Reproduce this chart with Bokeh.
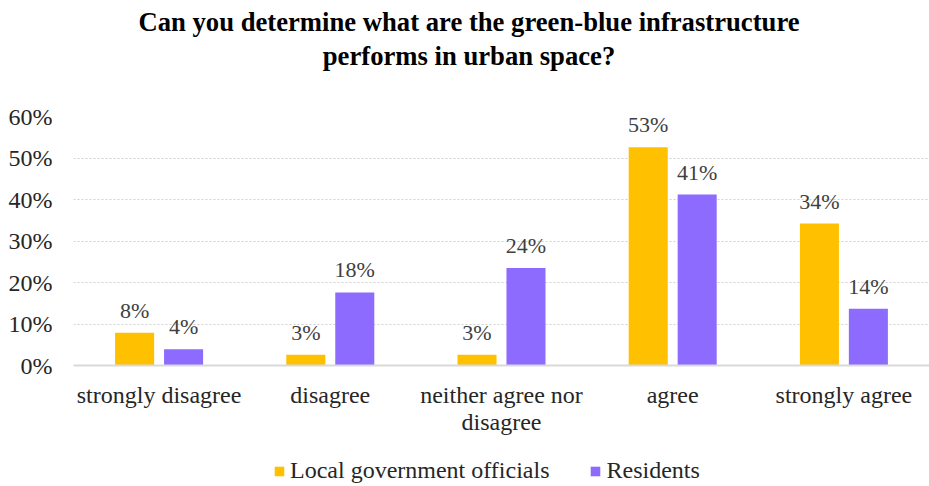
from bokeh.plotting import figure
from bokeh.layouts import column
from bokeh.models import (Range1d, FixedTicker, Legend, LegendItem, ColumnDataSource,
                          LinearAxis, Label)
from bokeh.embed import file_html
from bokeh.resources import INLINE
from bokeh.core.properties import value

categories = ["strongly disagree", "disagree", "neither agree nor", "agree", "strongly agree"]
category_second_line = ["", "", "disagree", "", ""]
officials = [7.9, 2.6, 2.6, 52.6, 34.2]
residents = [3.9, 17.6, 23.5, 41.2, 13.7]
series_names = ["Local government officials", "Residents"]
y_ticks = [0, 10, 20, 30, 40, 50, 60]
title_lines = ["Can you determine what are the green-blue infrastructure", "performs in urban space?"]

ORANGE = "#FFC000"
PURPLE = "#8E6BFF"
SERIF = "Liberation Serif"
AX_COLOR = "#262626"
W = 929
LEFT = 73
TITLE_H = 96
LEGEND_H = 46
MAIN_H = 486 - TITLE_H - LEGEND_H

n = len(categories)
centers = [i + 0.5 for i in range(n)]
off = 0.143
bw = 0.228

# ---------------- title strip ----------------
pt = figure(width=W, height=TITLE_H, output_backend="svg", toolbar_location=None,
            x_range=Range1d(LEFT, W), y_range=Range1d(0, TITLE_H),
            x_axis_type=None, y_axis_type=None, min_border=0)
pt.title = None
pt.outline_line_color = None
pt.grid.grid_line_color = None
for txt, yb in zip(title_lines, [74.2, 41.0]):
    pt.add_layout(Label(x=W / 2 + 4, y=yb, text=txt, text_align="center", text_baseline="alphabetic",
                        text_font=SERIF, text_font_size="26.67px", text_font_style="bold",
                        text_color="#000000"))

# ---------------- main chart ----------------
src_o = ColumnDataSource(dict(x=[c - off for c in centers], top=officials,
                              lab=[f"{round(v)}%" for v in officials]))
src_r = ColumnDataSource(dict(x=[c + off for c in centers], top=residents,
                              lab=[f"{round(v)}%" for v in residents]))

p = figure(width=W, height=MAIN_H, output_backend="svg", toolbar_location=None,
           x_range=Range1d(0, n), y_range=Range1d(0, 60),
           min_border_left=LEFT, min_border_right=0, min_border_top=20, min_border_bottom=75)
p.title = None
p.outline_line_color = None
p.background_fill_color = "white"
p.border_fill_color = "white"

p.vbar(x="x", top="top", width=bw, source=src_o, fill_color=ORANGE, line_color=None)
p.vbar(x="x", top="top", width=bw, source=src_r, fill_color=PURPLE, line_color=None)

for src in (src_o, src_r):
    p.text(x="x", y="top", text="lab", source=src, text_align="center", text_baseline="bottom",
           y_offset=-10, text_font=value(SERIF), text_font_size="22px", text_color="#404040")

p.xaxis.ticker = FixedTicker(ticks=centers)
p.xaxis.major_label_overrides = {c: lab for c, lab in zip(centers, categories)}
p.xaxis.major_tick_line_color = None
p.xaxis.minor_tick_line_color = None
p.xaxis.axis_line_color = "#d9d9d9"
p.xaxis.axis_line_width = 2
p.xaxis.major_label_text_font = SERIF
p.xaxis.major_label_text_font_size = "24px"
p.xaxis.major_label_text_color = AX_COLOR
p.xaxis.major_label_standoff = 10

sec_ticks = [c for c, s in zip(centers, category_second_line) if s]
ax2 = LinearAxis(ticker=FixedTicker(ticks=sec_ticks),
                 major_label_overrides={c: s for c, s in zip(centers, category_second_line) if s},
                 axis_line_color=None, major_tick_line_color=None, minor_tick_line_color=None,
                 major_label_text_font=SERIF, major_label_text_font_size="24px",
                 major_label_text_color=AX_COLOR, major_label_standoff=-8)
p.add_layout(ax2, "below")

p.yaxis.ticker = FixedTicker(ticks=y_ticks)
p.yaxis.major_label_overrides = {t: f"{t}%" for t in y_ticks}
p.yaxis.major_tick_line_color = None
p.yaxis.minor_tick_line_color = None
p.yaxis.axis_line_color = None
p.yaxis.major_label_text_font = SERIF
p.yaxis.major_label_text_font_size = "24px"
p.yaxis.major_label_text_color = AX_COLOR
p.yaxis.major_label_standoff = 15

p.xgrid.grid_line_color = None
p.ygrid.grid_line_color = "#d0d0d0"
p.ygrid.grid_line_dash = "2 2"
p.ygrid.grid_line_width = 1

# ---------------- legend strip ----------------
pl = figure(width=W, height=LEGEND_H, output_backend="svg", toolbar_location=None,
            x_range=Range1d(0, 1), y_range=Range1d(0, 1),
            x_axis_type=None, y_axis_type=None, min_border=0)
pl.title = None
pl.outline_line_color = None
pl.grid.grid_line_color = None
# swatch renderers (zero-size, off range); only their legend glyphs show
lo = pl.vbar(x=[-5], top=[-5], bottom=[-5], width=0.1, fill_color=ORANGE, line_color=None)
lr = pl.vbar(x=[-5], top=[-5], bottom=[-5], width=0.1, fill_color=PURPLE, line_color=None)
legend = Legend(items=[LegendItem(label=series_names[0], renderers=[lo]),
                       LegendItem(label=series_names[1], renderers=[lr])],
                orientation="horizontal", location=(200, 2),
                label_text_font=SERIF, label_text_font_size="24px", label_text_color=AX_COLOR,
                glyph_width=12, glyph_height=12, label_standoff=5, spacing=40,
                margin=0, padding=0,
                border_line_color=None, background_fill_alpha=0)
pl.add_layout(legend, "center")

layout = column(pt, p, pl, spacing=0)
open("out.html", "w").write(file_html(layout, INLINE))
